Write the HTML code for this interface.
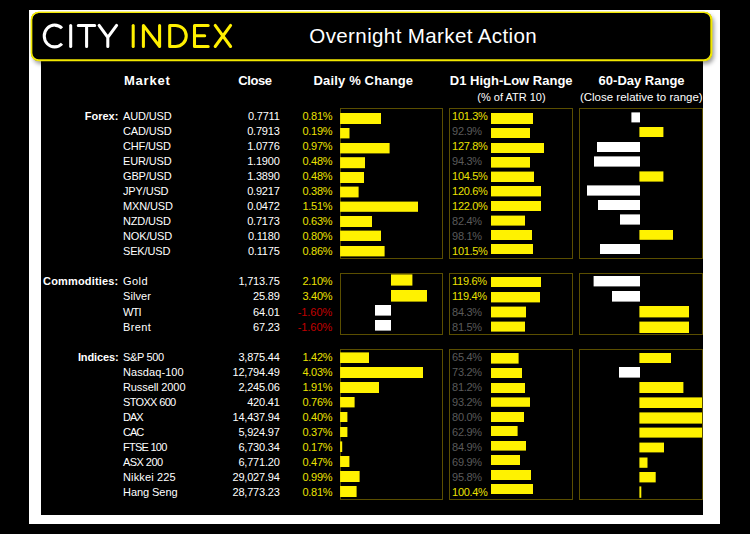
<!DOCTYPE html>
<html lang="en">
<head>
<meta charset="utf-8">
<title>Overnight Market Action</title>
<style>
html,body{margin:0;padding:0;background:#000;}
body{width:750px;height:534px;position:relative;overflow:hidden;font-family:"Liberation Sans",sans-serif;color:#fff;}
.abs{position:absolute;}
#frame{left:29px;top:10px;width:691px;height:514px;background:#fff;}
#panel{left:41px;top:30px;width:662px;height:485px;background:#000;}
#hdr{left:30.8px;top:11.7px;width:681.6px;height:49.6px;border-radius:8px;background:#000;box-shadow:2px 3px 4px rgba(0,0,0,.4);}
#title{left:309.3px;top:22px;font-size:20.6px;line-height:28px;white-space:nowrap;color:#fff;letter-spacing:0.35px;}
.h{font-weight:bold;font-size:13px;line-height:16px;white-space:nowrap;text-align:center;}
.sh{font-size:11.5px;line-height:14px;white-space:nowrap;text-align:center;}
.row{left:0;width:750px;height:15px;font-size:11px;line-height:15px;white-space:nowrap;}
.row span{position:absolute;top:0;}
.cat{right:631.6px;font-weight:bold;font-size:11px;}
.nm{left:123px;letter-spacing:-0.15px;}
.cl{right:470.4px;letter-spacing:-0.2px;}
.pc{right:417.8px;letter-spacing:-0.3px;color:#ebe000;}
.d1{left:452.1px;letter-spacing:-0.3px;color:#5a5a5a;}
.hi{color:#ebe000;}
.neg{letter-spacing:-0.05px;color:#c00000;}
.box{border:1px solid #5a4e00;box-sizing:border-box;}
.b{background:#fff200;}
.w{background:#fff;}
</style>
</head>
<body>
<div id="frame" class="abs"></div>
<div id="panel" class="abs"></div>
<div id="hdr" class="abs"></div>
<svg class="abs" style="left:0;top:0" width="750" height="70" viewBox="0 0 750 70" fill="none" stroke-width="3.05" stroke-linecap="round" stroke-linejoin="round">
<rect x="31.5" y="12.4" width="680.2" height="48.2" rx="7.4" ry="7.4" stroke="#f2e800" stroke-width="1.4"/>
<rect x="31.5" y="12.4" width="679.5" height="47.5" rx="7" ry="7" stroke="#f2e800" stroke-width="1.4"/>
<g stroke="#ffffff">
<path d="M62 28.3 A10.4 10.9 0 1 0 62 43.7" stroke-linecap="butt"/>
<path d="M70.7 25.4 V46.5"/>
<path d="M78.3 25.4 H94.7 M86.6 25.4 V46.5"/>
<path d="M99.1 25.4 L107.8 37.4 L116.6 25.4 M107.8 37.4 V46.5"/>
</g>
<g stroke="#fff000">
<path d="M133.2 25.4 V46.5"/>
<path d="M143.4 46.5 V25.4 L159.6 46.5 V25.4"/>
<path d="M169.7 25.4 V46.5 H175.7 A10.55 10.55 0 0 0 175.7 25.4 Z"/>
<path d="M208.2 25.4 H194.5 V46.5 H208.2 M194.5 35.8 H204.7"/>
<path d="M215.2 25.4 L230.6 46.5 M230.6 25.4 L215.2 46.5"/>
</g>
</svg>
<div id="title" class="abs">Overnight Market Action</div>

<div class="abs h" style="left:47.3px;top:72.5px;width:200px;letter-spacing:0.8px">Market</div>
<div class="abs h" style="left:155px;top:72.5px;width:200px;letter-spacing:-0.4px">Close</div>
<div class="abs h" style="left:263.4px;top:72.5px;width:200px;letter-spacing:0.15px">Daily % Change</div>
<div class="abs h" style="left:411.2px;top:72.5px;width:200px">D1 High-Low Range</div>
<div class="abs h" style="left:541.6px;top:72.5px;width:200px">60-Day Range</div>
<div class="abs sh" style="left:411.5px;top:90px;width:200px;font-size:11px">(% of ATR 10)</div>
<div class="abs sh" style="left:541.3px;top:90px;width:200px">(Close relative to range)</div>
<div class="abs box" style="left:340px;top:108px;width:103px;height:150.5px"></div>
<div class="abs box" style="left:340px;top:273px;width:103px;height:61.5px"></div>
<div class="abs box" style="left:340px;top:349px;width:103px;height:150.5px"></div>
<div class="abs box" style="left:449px;top:108px;width:124px;height:150.5px"></div>
<div class="abs box" style="left:449px;top:273px;width:124px;height:61.5px"></div>
<div class="abs box" style="left:449px;top:349px;width:124px;height:150.5px"></div>
<div class="abs box" style="left:579px;top:108px;width:124px;height:150.5px"></div>
<div class="abs box" style="left:579px;top:273px;width:124px;height:61.5px"></div>
<div class="abs box" style="left:579px;top:349px;width:124px;height:150.5px"></div>
<svg class="abs" style="left:0;top:0" width="750" height="534" viewBox="0 0 750 534">
<g fill="#fff200">
<rect x="340.1" y="113" width="40.9" height="11"/>
<rect x="340.1" y="128" width="9.4" height="10.4"/>
<rect x="340.1" y="143" width="49.5" height="10.4"/>
<rect x="340.1" y="157.2" width="24.9" height="11"/>
<rect x="340.1" y="172" width="23.9" height="11"/>
<rect x="340.1" y="186.6" width="18.5" height="10.8"/>
<rect x="340.1" y="201.6" width="77.9" height="10.2"/>
<rect x="340.1" y="216" width="31.9" height="11"/>
<rect x="340.1" y="230.6" width="40.9" height="10.4"/>
<rect x="340.1" y="246" width="44.5" height="10.4"/>
<rect x="391" y="274.4" width="21.4" height="11.2"/>
<rect x="391" y="290" width="36" height="11.6"/>
<rect x="340.1" y="352.4" width="28.9" height="10.6"/>
<rect x="340.1" y="367" width="82.9" height="11"/>
<rect x="340.1" y="382" width="38.9" height="11"/>
<rect x="340.1" y="397" width="14.5" height="10.4"/>
<rect x="340.1" y="412" width="7.3" height="10"/>
<rect x="340.1" y="427" width="7.3" height="10"/>
<rect x="340.1" y="441.4" width="2.1" height="10.6"/>
<rect x="340.1" y="456" width="9.3" height="11"/>
<rect x="340.1" y="471" width="19.5" height="11"/>
<rect x="340.1" y="486" width="16.5" height="11"/>
<rect x="491" y="113" width="42" height="11"/>
<rect x="491" y="128" width="39" height="10"/>
<rect x="491" y="143" width="53" height="10"/>
<rect x="491" y="157" width="39" height="10.6"/>
<rect x="491" y="171.6" width="43" height="10.4"/>
<rect x="491" y="186" width="50" height="10.4"/>
<rect x="491" y="201" width="50" height="10"/>
<rect x="491" y="215.6" width="34" height="10"/>
<rect x="491" y="230" width="41" height="10"/>
<rect x="491" y="244" width="42" height="10"/>
<rect x="491" y="277" width="50" height="10"/>
<rect x="491" y="292" width="49" height="10.4"/>
<rect x="491" y="306.6" width="35" height="10.8"/>
<rect x="491" y="321.6" width="34" height="10"/>
<rect x="491" y="353" width="27.6" height="10.6"/>
<rect x="491" y="368" width="31" height="10"/>
<rect x="491" y="383" width="34" height="10"/>
<rect x="491" y="397.4" width="39" height="9.4"/>
<rect x="491" y="412" width="33" height="10"/>
<rect x="491" y="426" width="26.6" height="10"/>
<rect x="491" y="441" width="35" height="9.6"/>
<rect x="491" y="455" width="29" height="10"/>
<rect x="491" y="470" width="40" height="10"/>
<rect x="491" y="484" width="42" height="10"/>
<rect x="639.4" y="127" width="24" height="10"/>
<rect x="639.4" y="171.4" width="24" height="10.2"/>
<rect x="639.4" y="230" width="33.6" height="9.8"/>
<rect x="639.4" y="306" width="49.6" height="11.4"/>
<rect x="639.4" y="321.6" width="49.6" height="11.4"/>
<rect x="639.4" y="353" width="31.6" height="10"/>
<rect x="639.4" y="382" width="44" height="11"/>
<rect x="639.4" y="397.4" width="62.6" height="10.6"/>
<rect x="639.4" y="412.4" width="62.6" height="11.2"/>
<rect x="639.4" y="427.6" width="62.6" height="10"/>
<rect x="639.4" y="442.6" width="24.6" height="9.8"/>
<rect x="639.4" y="457.5" width="8.1" height="10.3"/>
<rect x="639.4" y="472" width="16.3" height="10.4"/>
<rect x="639.4" y="486.4" width="1.9" height="11.4"/>
</g>
<g fill="#ffffff">
<rect x="375" y="305" width="16" height="10.6"/>
<rect x="375" y="320" width="16" height="10.6"/>
<rect x="631.4" y="112.4" width="8.6" height="10"/>
<rect x="597" y="142" width="43" height="10"/>
<rect x="594" y="156.4" width="46" height="10.2"/>
<rect x="587" y="185.4" width="53" height="10.2"/>
<rect x="598" y="200" width="42" height="10"/>
<rect x="620" y="214.4" width="20" height="10.2"/>
<rect x="600" y="244" width="40" height="10"/>
<rect x="593.6" y="276" width="46.4" height="10.4"/>
<rect x="612" y="291" width="28" height="10.6"/>
<rect x="619" y="367" width="21" height="10.6"/>
</g>
</svg>
<div class="abs row" style="top:108.5px"><span class="cat" style="letter-spacing:0px">Forex:</span><span class="nm">AUD/USD</span><span class="cl">0.7711</span><span class="pc">0.81%</span><span class="d1 hi">101.3%</span></div>
<div class="abs row" style="top:123.5px"><span class="nm">CAD/USD</span><span class="cl">0.7913</span><span class="pc">0.19%</span><span class="d1">92.9%</span></div>
<div class="abs row" style="top:138.5px"><span class="nm">CHF/USD</span><span class="cl">1.0776</span><span class="pc">0.97%</span><span class="d1 hi">127.8%</span></div>
<div class="abs row" style="top:153.5px"><span class="nm">EUR/USD</span><span class="cl">1.1900</span><span class="pc">0.48%</span><span class="d1">94.3%</span></div>
<div class="abs row" style="top:168.5px"><span class="nm">GBP/USD</span><span class="cl">1.3890</span><span class="pc">0.48%</span><span class="d1 hi">104.5%</span></div>
<div class="abs row" style="top:183.5px"><span class="nm">JPY/USD</span><span class="cl">0.9217</span><span class="pc">0.38%</span><span class="d1 hi">120.6%</span></div>
<div class="abs row" style="top:198.5px"><span class="nm">MXN/USD</span><span class="cl">0.0472</span><span class="pc">1.51%</span><span class="d1 hi">122.0%</span></div>
<div class="abs row" style="top:213.5px"><span class="nm">NZD/USD</span><span class="cl">0.7173</span><span class="pc">0.63%</span><span class="d1">82.4%</span></div>
<div class="abs row" style="top:228.5px"><span class="nm">NOK/USD</span><span class="cl">0.1180</span><span class="pc">0.80%</span><span class="d1">98.1%</span></div>
<div class="abs row" style="top:243.5px"><span class="nm">SEK/USD</span><span class="cl">0.1175</span><span class="pc">0.86%</span><span class="d1 hi">101.5%</span></div>
<div class="abs row" style="top:273.5px"><span class="cat" style="letter-spacing:0.17px">Commodities:</span><span class="nm" style="letter-spacing:0.45px">Gold</span><span class="cl">1,713.75</span><span class="pc">2.10%</span><span class="d1 hi">119.6%</span></div>
<div class="abs row" style="top:288.5px"><span class="nm" style="letter-spacing:0.07px">Silver</span><span class="cl">25.89</span><span class="pc">3.40%</span><span class="d1 hi">119.4%</span></div>
<div class="abs row" style="top:304.5px"><span class="nm" style="letter-spacing:-0.8px">WTI</span><span class="cl">64.01</span><span class="pc neg">-1.60%</span><span class="d1">84.3%</span></div>
<div class="abs row" style="top:319.5px"><span class="nm" style="letter-spacing:0.37px">Brent</span><span class="cl">67.23</span><span class="pc neg">-1.60%</span><span class="d1">81.5%</span></div>
<div class="abs row" style="top:349.5px"><span class="cat" style="letter-spacing:-0.14px">Indices:</span><span class="nm" style="letter-spacing:-0.33px">S&amp;P 500</span><span class="cl">3,875.44</span><span class="pc">1.42%</span><span class="d1">65.4%</span></div>
<div class="abs row" style="top:364.5px"><span class="nm" style="letter-spacing:0.08px">Nasdaq-100</span><span class="cl">12,794.49</span><span class="pc">4.03%</span><span class="d1">73.2%</span></div>
<div class="abs row" style="top:379.5px"><span class="nm" style="letter-spacing:-0.1px">Russell 2000</span><span class="cl">2,245.06</span><span class="pc">1.91%</span><span class="d1">81.2%</span></div>
<div class="abs row" style="top:394.5px"><span class="nm" style="letter-spacing:-0.66px">STOXX 600</span><span class="cl">420.41</span><span class="pc">0.76%</span><span class="d1">93.2%</span></div>
<div class="abs row" style="top:409.5px"><span class="nm" style="letter-spacing:-1px">DAX</span><span class="cl">14,437.94</span><span class="pc">0.40%</span><span class="d1">80.0%</span></div>
<div class="abs row" style="top:424.5px"><span class="nm" style="letter-spacing:-1px">CAC</span><span class="cl">5,924.97</span><span class="pc">0.37%</span><span class="d1">62.9%</span></div>
<div class="abs row" style="top:439.5px"><span class="nm" style="letter-spacing:-0.74px">FTSE 100</span><span class="cl">6,730.34</span><span class="pc">0.17%</span><span class="d1">84.9%</span></div>
<div class="abs row" style="top:454.5px"><span class="nm" style="letter-spacing:-0.55px">ASX 200</span><span class="cl">6,771.20</span><span class="pc">0.47%</span><span class="d1">69.9%</span></div>
<div class="abs row" style="top:469.5px"><span class="nm" style="letter-spacing:0.15px">Nikkei 225</span><span class="cl">29,027.94</span><span class="pc">0.99%</span><span class="d1">95.8%</span></div>
<div class="abs row" style="top:484.5px"><span class="nm" style="letter-spacing:-0.06px">Hang Seng</span><span class="cl">28,773.23</span><span class="pc">0.81%</span><span class="d1 hi">100.4%</span></div>
</body>
</html>
